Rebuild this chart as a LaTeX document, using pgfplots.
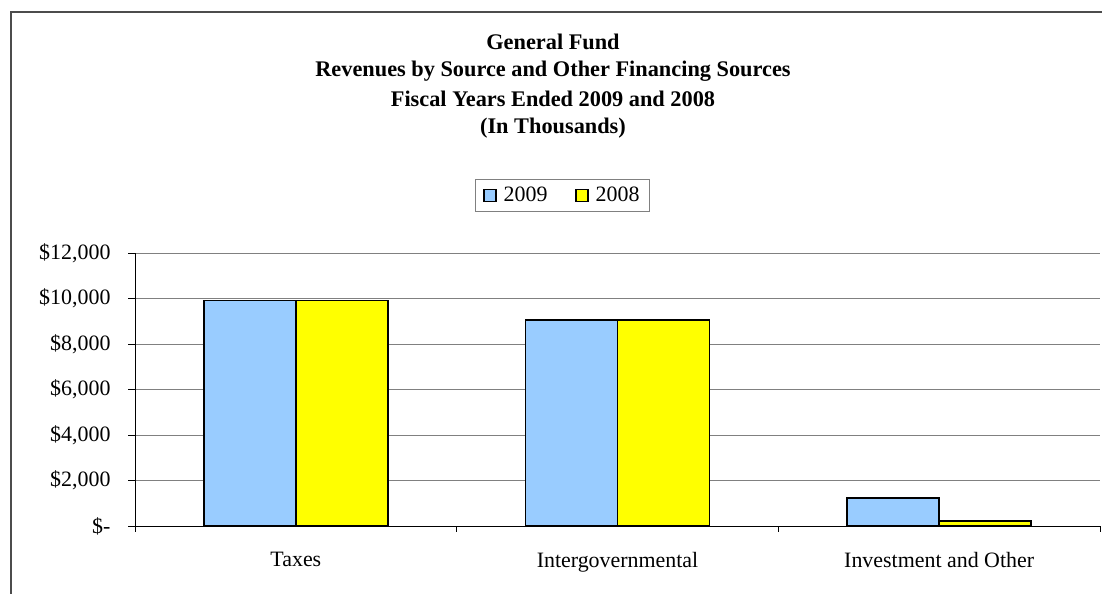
\documentclass[border=0pt]{standalone}
\usepackage{fontspec}
\setmainfont{Liberation Serif}
\usepackage{pgfplots}
\pgfplotsset{compat=1.18}
\definecolor{c09}{HTML}{99CCFF}
\definecolor{c08}{HTML}{FFFF00}
\begin{document}
\begin{tikzpicture}[x=1bp,y=1bp]
\useasboundingbox (0,0) rectangle (1102,594);
\draw[line width=2bp, color=black!70] (11,0) -- (11,582) -- (1102,582);
\begin{scope}[every node/.style={font=\fontsize{22.4}{26}\selectfont\bfseries}]
\node at (553,552) {General Fund};
\node at (553,523) {Revenues by Source and Other Financing Sources};
\node at (553,495) {Fiscal Years Ended 2009 and 2008};
\node at (553,466) {(In Thousands)};
\end{scope}
\begin{axis}[
  at={(135bp,68bp)}, anchor=south west,
  scale only axis, width=965bp, height=273bp,
  xmin=-0.5, xmax=2.5, ymin=0, ymax=12000,
  scaled y ticks=false,
  ybar=0pt, bar width=92bp,
  axis x line*=bottom, axis y line*=left,
  axis line style={black, line width=0.8bp, -},
  tick align=outside,
  xtick={0,1,2},
  xticklabels={Taxes,Intergovernmental,Investment and Other},
  major x tick style={draw=none},
  minor xtick={-0.5,0.5,1.5,2.5},
  minor tick length=6bp,
  minor x tick style={black, line width=0.8bp},
  major tick length=7bp,
  ytick={0,2000,4000,6000,8000,10000,12000},
  yticklabels={\$-,\$2{,}000,\$4{,}000,\$6{,}000,\$8{,}000,\$10{,}000,\$12{,}000},
  ytick style={black, line width=0.8bp},
  ymajorgrids, grid style={black!50, line width=0.8bp},
  tick label style={font=\fontsize{22}{26}\selectfont},
  yticklabel style={xshift=-14bp},
  xticklabel style={yshift=-16bp},
  /pgf/number format/assume math mode=true,
  legend style={at={(0.443,1.212)}, anchor=center, draw=black!50, line width=0.8bp,
    font=\fontsize{22}{26}\selectfont, legend columns=2,
    /tikz/every odd column/.append style={column sep=5bp},
    /tikz/every even column/.append style={column sep=26bp},
    inner xsep=8bp, inner ysep=6bp},
  legend image code/.code={\draw[#1, line width=1.2bp, draw=black] (0bp,-6bp) rectangle (12bp,6bp);},
]
\addplot[fill=c09, draw=black, line width=1.6bp] coordinates {(0,9920) (1,9050) (2,1230)};
\addplot[fill=c08, draw=black, line width=1.6bp] coordinates {(0,9920) (1,9050) (2,210)};
\legend{2009,2008}
\end{axis}
\end{tikzpicture}
\end{document}
